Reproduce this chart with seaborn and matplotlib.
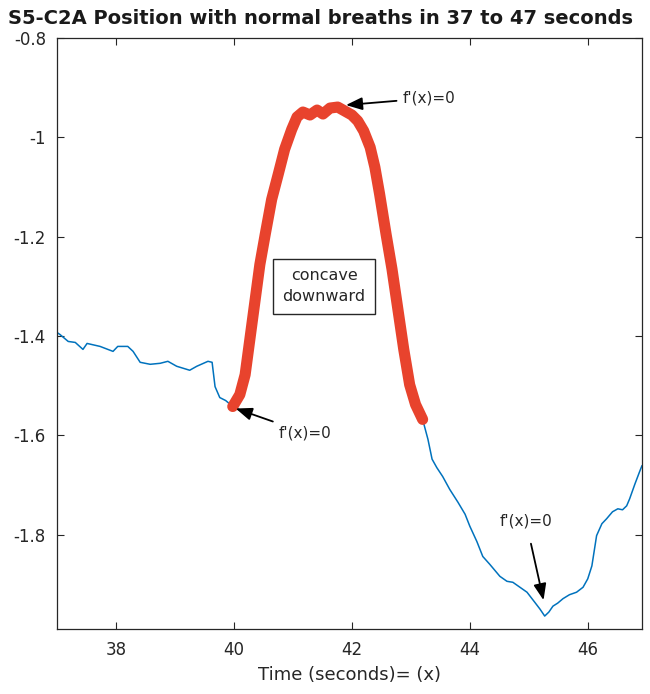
import matplotlib
matplotlib.use("Agg")
import matplotlib.pyplot as plt
import seaborn as sns
import pandas as pd

# ---- data ----
blue_left_x = [37.00, 37.05, 37.19, 37.31, 37.44, 37.51, 37.73, 37.95, 38.03, 38.20, 38.29, 38.41,
               38.58, 38.75, 38.88, 39.03, 39.25, 39.37, 39.56, 39.63, 39.68, 39.76, 39.86, 39.98]
blue_left_y = [-1.393, -1.397, -1.411, -1.413, -1.427, -1.415, -1.421, -1.431, -1.421, -1.421, -1.431, -1.453,
               -1.457, -1.455, -1.451, -1.461, -1.469, -1.461, -1.451, -1.453, -1.502, -1.524, -1.530, -1.542]

red_x = [39.98, 40.10, 40.19, 40.27, 40.36, 40.44, 40.53, 40.64, 40.75, 40.86, 40.98, 41.07, 41.17,
         41.29, 41.41, 41.51, 41.63, 41.76, 41.88, 42.00, 42.10, 42.20, 42.31, 42.39, 42.47, 42.58,
         42.68, 42.78, 42.88, 42.98, 43.08, 43.20]
red_y = [-1.542, -1.518, -1.478, -1.407, -1.327, -1.256, -1.196, -1.125, -1.075, -1.024, -0.984, -0.959, -0.949,
         -0.955, -0.945, -0.953, -0.941, -0.939, -0.947, -0.955, -0.967, -0.987, -1.020, -1.060, -1.114, -1.195,
         -1.265, -1.346, -1.427, -1.498, -1.538, -1.568]

blue_right_x = [43.20, 43.29, 43.36, 43.44, 43.54, 43.66, 43.80, 43.92, 44.00, 44.12, 44.22, 44.34, 44.51,
                44.63, 44.73, 44.85, 44.97, 45.10, 45.19, 45.27, 45.34, 45.41, 45.49, 45.58, 45.69, 45.81,
                45.92, 46.00, 46.07, 46.15, 46.24, 46.32, 46.42, 46.51, 46.59, 46.66, 46.71, 46.80, 46.88, 46.92]
blue_right_y = [-1.568, -1.608, -1.648, -1.665, -1.683, -1.709, -1.735, -1.759, -1.783, -1.814, -1.844, -1.860, -1.884,
                -1.894, -1.896, -1.906, -1.916, -1.936, -1.950, -1.964, -1.956, -1.944, -1.938, -1.929, -1.921, -1.916,
                -1.906, -1.889, -1.863, -1.802, -1.778, -1.768, -1.754, -1.748, -1.750, -1.742, -1.728, -1.698, -1.673, -1.661]

x_ticks = [38, 40, 42, 44, 46]
y_ticks = [-1.8, -1.6, -1.4, -1.2, -1.0, -0.8]
y_ticklabels = ["-1.8", "-1.6", "-1.4", "-1.2", "-1", "-0.8"]

title = "S5-C2A Position with normal breaths in 37 to 47 seconds"
xlabel = "Time (seconds)= (x)"
ann_text = "f'(x)=0"
box_text = "concave\ndownward"

# ---- plot ----
sns.set_style("ticks")
plt.rcParams["font.family"] = ["DejaVu Sans"]

fig = plt.figure(figsize=(6.5, 6.94), dpi=100)
ax = fig.add_axes([0.0877, 0.0937, 0.9000, 0.8515])

blue = "#0072BD"
red = "#E8432D"

df_bl = pd.DataFrame({"x": blue_left_x, "y": blue_left_y})
df_r = pd.DataFrame({"x": red_x, "y": red_y})
df_br = pd.DataFrame({"x": blue_right_x, "y": blue_right_y})

sns.lineplot(data=df_bl, x="x", y="y", ax=ax, color=blue, lw=1.1, sort=False, estimator=None)
sns.lineplot(data=df_br, x="x", y="y", ax=ax, color=blue, lw=1.1, sort=False, estimator=None)
sns.lineplot(data=df_r, x="x", y="y", ax=ax, color=red, lw=8, sort=False, estimator=None,
             solid_capstyle="round", solid_joinstyle="round")

ax.set_xlim(37, 46.92)
ax.set_ylim(-1.99, -0.8)
ax.set_xticks(x_ticks)
ax.set_xticklabels([str(t) for t in x_ticks])
ax.set_yticks(y_ticks)
ax.set_yticklabels(y_ticklabels)
ax.tick_params(direction="in", length=5, width=0.8, top=True, right=True,
               labelsize=12, labelcolor="#262626", color="#262626")
ax.tick_params(axis="y", pad=8)
ax.tick_params(axis="x", pad=9)
for s in ax.spines.values():
    s.set_visible(True)
    s.set_linewidth(0.9)
    s.set_color("#262626")

ax.set_xlabel(xlabel, fontsize=13, color="#262626", labelpad=5)
ax.set_ylabel("")
fig.text(320 / 650, 1 - 18 / 694, title, fontsize=14.0, fontweight="bold",
         ha="center", va="center", color="#1a1a1a")

arrow = dict(arrowstyle="-|>,head_length=0.9,head_width=0.35", color="black", lw=1.3, shrinkA=2, shrinkB=0)
ax.annotate(ann_text, xy=(41.90, -0.935), xytext=(42.86, -0.921), fontsize=11,
            ha="left", va="center", arrowprops=arrow)
ax.annotate(ann_text, xy=(40.03, -1.546), xytext=(40.76, -1.595), fontsize=11,
            ha="left", va="center", arrowprops=arrow)
ax.annotate(ann_text, xy=(45.25, -1.932), xytext=(44.95, -1.772), fontsize=11,
            ha="center", va="center", arrowprops=dict(arrow, shrinkA=9))

ax.text(41.53, -1.300, box_text, fontsize=11.5, ha="center", va="center", linespacing=1.5,
        bbox=dict(boxstyle="square,pad=0.6", fc="white", ec="#262626", lw=1.0))

fig.savefig("out.png", dpi=100)
